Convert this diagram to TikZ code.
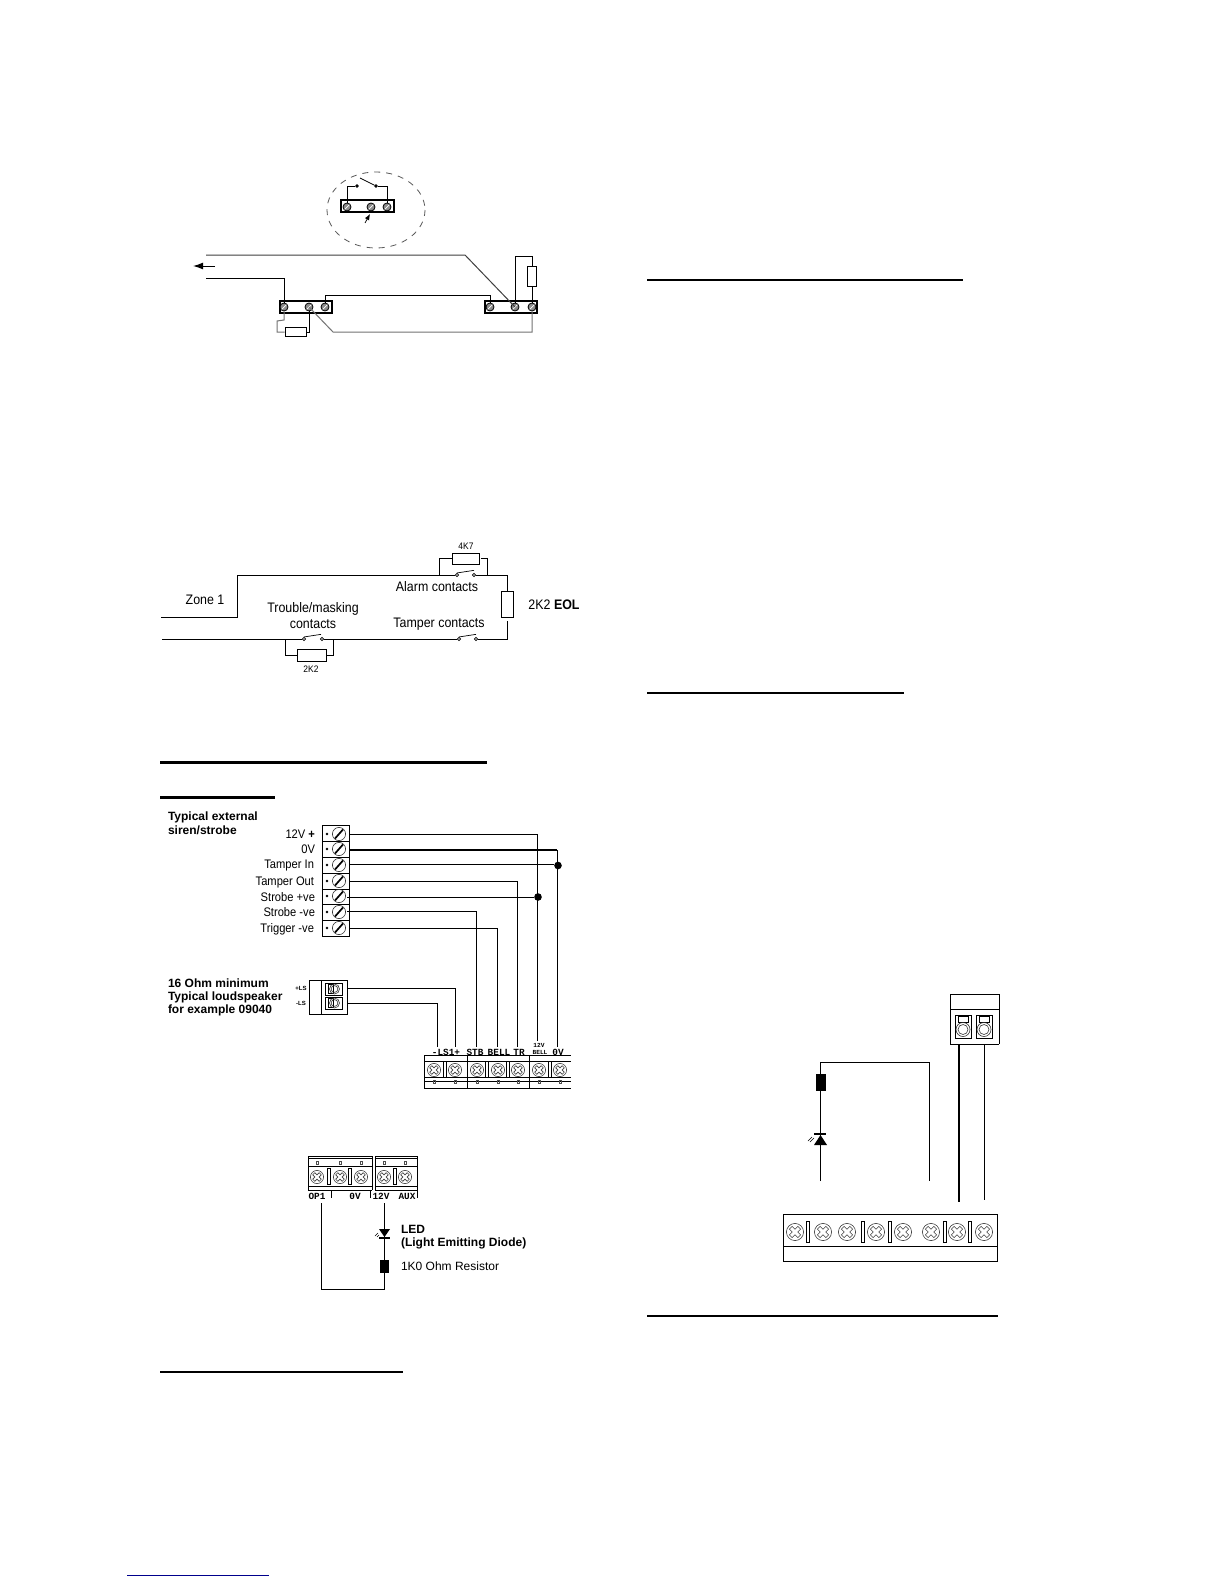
\documentclass[tikz,border=0pt]{standalone}
\usepackage{fontspec}
\usetikzlibrary{arrows.meta}
\setmainfont{Liberation Sans}
\newfontfamily\monof{Liberation Mono}
\newfontfamily\narrowf[FakeStretch=.9]{Liberation Sans}
\tikzset{
 wire/.style={draw=black,line width=.5pt},
 thin wire/.style={draw=black,line width=.35pt},
 fat wire/.style={draw=black,line width=1pt},
 gray wire/.style={draw=black!55,line width=.5pt},
 rulebar/.style={draw=black,line width=1.5pt},
 rulethin/.style={draw=black,line width=1pt},
 txt/.style={inner sep=0pt,outer sep=0pt,font=\narrowf\fontsize{6.9}{7}\selectfont},
 txts/.style={inner sep=0pt,outer sep=0pt,font=\narrowf\fontsize{6.2}{7}\selectfont},
 txtb/.style={inner sep=0pt,outer sep=0pt,font=\fontsize{6}{7}\selectfont\bfseries},
 tiny/.style={inner sep=0pt,outer sep=0pt,font=\narrowf\fontsize{4.7}{5}\selectfont},
 tinyb/.style={inner sep=0pt,outer sep=0pt,font=\fontsize{3}{4}\selectfont\bfseries},
 mono/.style={inner sep=0pt,outer sep=0pt,font=\monof\fontsize{4.7}{5}\selectfont\bfseries},
 monos/.style={inner sep=0pt,outer sep=0pt,font=\monof\fontsize{3.1}{4}\selectfont\bfseries},
 hscrew/.style={circle,draw=black,fill=black!45,inner sep=0pt,minimum size=4pt,line width=.4pt,
   path picture={\draw[white,line width=.35pt](path picture bounding box.south west)--(path picture bounding box.north east);}},
 res/.style={rectangle,draw=black,fill=white,inner sep=0pt,line width=.5pt},
 blackres/.style={rectangle,draw=black,fill=black,inner sep=0pt},
 contact/.style={circle,draw=black,fill=white,inner sep=0pt,minimum size=1.7pt,line width=.35pt},
 jdot/.style={circle,fill=black,inner sep=0pt,minimum size=3.8pt},
 bigscrew/.pic={
   \draw[line width=.3pt,black!75] (0,0) circle (6.6);
   \draw[line width=.3pt,black!75,rotate=45] (-1.5,-4.6)--(1.5,-4.6)--(1.5,-1.5)--(4.6,-1.5)--(4.6,1.5)--(1.5,1.5)--(1.5,4.6)--(-1.5,4.6)--(-1.5,1.5)--(-4.6,1.5)--(-4.6,-1.5)--(-1.5,-1.5)--cycle;
 },
 sirenscrew/.pic={
   \draw[line width=.3pt,black!80] (0,0) circle (6.6);
   \draw[line width=.85pt] (-4,4.5)--(4,-4.5);
   \fill (-12,0) circle (1.3);
 },
 bar/.style={draw=black,fill=white,line width=.35pt},
 pinmark/.pic={\draw[line width=.25pt,black!70] (-.9,-1.5) rectangle (.9,1.5);},
 pluggy/.pic={
   \draw[line width=.45pt] (-8,-11.5) rectangle (8,11.5);
   \draw[line width=.35pt] (-5,-10) rectangle (5,-4);
   \draw[line width=.3pt,black!80] (0,3) circle (7);
   \draw[line width=.3pt,black!80] (0,3) circle (5);
 },
 pluggysm/.pic={
   \draw[line width=.45pt] (-8.5,-6) rectangle (8.5,6);
   \draw[line width=.35pt] (-5.5,-4.5) rectangle (0,4.5);
   \draw[line width=.3pt,black!80] (1,0) circle (5);
   \draw[line width=.3pt,black!80] (1,0) circle (3.4);
 }
}
\begin{document}
\begin{tikzpicture}[x=.5pt,y=-.5pt]
\useasboundingbox[fill=white] (0,0) rectangle (1224,1584);

% ---------- Figure 1
\draw[dashed,draw=black!65,line width=.4pt] (376,210) ellipse (49 and 38);
\draw[draw=black,line width=.55pt] (341,200) rectangle (394,212);
\node[hscrew] (a1) at (347,207) {};
\node[hscrew] (a2) at (371,207) {};
\node[hscrew] (a3) at (387,207) {};
\node[contact,fill=black,minimum size=1.4pt] (a4) at (357,186) {};
\node[contact,fill=black,minimum size=1.4pt] (a5) at (376,186) {};
\coordinate (a6) at (360,178);
\draw[wire] (a1.north) |- (a4);
\draw[wire] (a3.north) |- (a5);
\draw[thin wire] (a6) -- (a5);
\coordinate (a7) at (365,223);
\coordinate (a8) at (370,214);
\draw[thin wire,-{Latex[length=3pt,width=2.4pt]}] (a7) -- (a8);

\draw[line width=.55pt] (280,301) rectangle (332,313);
\draw[line width=.55pt] (485,301) rectangle (537,313);
\node[hscrew] (l1) at (284,307) {};
\node[hscrew] (l2) at (309,307) {};
\node[hscrew] (l3) at (325,307) {};
\node[hscrew] (r1) at (490,307) {};
\node[hscrew] (r2) at (515,307) {};
\node[hscrew] (r3) at (532,307) {};
\coordinate (w1) at (206,255);
\coordinate (w2) at (465,255);
\coordinate (w3) at (206,278);
\draw[draw=black!75,line width=.5pt] (w1) -- (w2) -- (r2.center);
\draw[wire] (w3) -| (l1.north);
\draw[wire] (l3.north) |- (490,295) -- (r1.north);
\node[res,minimum width=4.3pt,minimum height=10pt] (rr) at (532,276) {};
\draw[wire] (r2.north) |- (532,256) -- (rr.north);
\draw[wire] (rr.south) -- (r3.north);
\coordinate (g1) at (333,332);
\coordinate (g2) at (532,332);
\draw[gray wire] (l2.center) -- (g1) -- (g2) -- (r3.south);
\node[res,minimum width=10.5pt,minimum height=4.5pt] (lr) at (295.5,332) {};
\draw[wire] (l2.south) |- (lr.east);
\draw[gray wire] (l1.south) -- (284,320) -- (277,321) |- (lr.west);
\coordinate (ar1) at (215,266);
\coordinate (ar2) at (193,266);
\draw[wire,-{Latex[length=5pt,width=3.4pt]}] (ar1) -- (ar2);

% ---------- Figure 2
\coordinate (z1) at (161,617);
\coordinate (z2) at (162,639);
\coordinate (zc) at (507,575);
\coordinate (zd) at (507,639);
\node[contact] (k1) at (457,575) {};
\node[contact] (k2) at (474,575) {};
\node[contact] (k3) at (304,639) {};
\node[contact] (k4) at (322,639) {};
\node[contact] (k5) at (459,639) {};
\node[contact] (k6) at (476,639) {};
\node[res,minimum width=6pt,minimum height=13pt] (eol) at (507,604) {};
\draw[wire] (z1) -| (237,575) -- (k1.west);
\draw[wire] (k2.east) -- (zc) -- (eol.north);
\coordinate (eg) at (507,621);
\draw[wire] (eg) -- (zd) -- (k6.east);
\draw[wire] (k5.west) -- (k4.east);
\draw[wire] (k3.west) -- (z2);
\draw[thin wire] (k1.north) -- ++(17,-2.6);
\draw[thin wire] (k3.north) -- ++(17,-2.6);
\draw[thin wire] (k5.north) -- ++(17,-2.6);
\node[res,minimum width=13.5pt,minimum height=5.5pt] (r47) at (465.5,558.5) {};
\draw[wire] (439,575) |- (r47.west);
\draw[fill=white,draw=white] (480,552) rectangle (483,564);
\draw[wire] (487,575) |- (481,558.5);
\node[res,minimum width=14.5pt,minimum height=6.2pt] (r22) at (311.5,655.5) {};
\draw[wire] (285,639) |- (r22.west);
\draw[wire] (333,639) |- (r22.east);
\node[txt] (t1) at (205,600) {Zone 1};
\node[txt] (t2) at (313,609) {Trouble/masking};
\node[txt] (t3) at (313,624) {contacts};
\node[txt] (t4) at (437,587) {Alarm contacts};
\node[txt] (t5) at (439,624) {Tamper contacts};
\node[txt] (t6) at (554,605) {2K2 \textbf{EOL}};
\node[tiny] (t7) at (466,546) {4K7};
\node[tiny] (t8) at (311,669) {2K2};

% ---------- rules
\coordinate (b1) at (160,762); \coordinate (b2) at (487,762);
\draw[rulebar] (b1) -- (b2);
\coordinate (b3) at (160,797); \coordinate (b4) at (275,797);
\draw[rulebar] (b3) -- (b4);
\coordinate (b5) at (160,1372); \coordinate (b6) at (403,1372);
\draw[rulethin] (b5) -- (b6);
\coordinate (b7) at (647,280); \coordinate (b8) at (963,280);
\draw[rulethin] (b7) -- (b8);
\coordinate (b9) at (647,693); \coordinate (b10) at (904,693);
\draw[rulethin] (b9) -- (b10);
\coordinate (b11) at (647,1316); \coordinate (b12) at (998,1316);
\draw[rulethin] (b11) -- (b12);
\coordinate (b13) at (127,1575); \coordinate (b14) at (269,1575);
\draw[draw=blue!55!black,line width=.5pt] (b13) -- (b14);

% ---------- Siren block
\node[txtb,anchor=west] (s0) at (168,817) {Typical external};
\node[txtb,anchor=west] (s00) at (168,830) {siren/strobe};
\draw[line width=.5pt] (322,825) rectangle (349,936);
\foreach \y in {841.5,857,873,889,904,920} \draw[line width=.5pt] (322,\y) -- (349,\y);
\foreach \y in {834,849,865,881,896,912,928} \pic at (339,\y) {sirenscrew};
\node[txts,anchor=east] (l12) at (315,834) {12V \textbf{+}};
\node[txts,anchor=east] (l0) at (315,849) {0V};
\node[txts,anchor=east] (lti) at (314,865.5) {Tamper In};
\node[txts,anchor=east] (lto) at (314,882) {Tamper Out};
\node[txts,anchor=east] (lsp) at (315,897) {Strobe +ve};
\node[txts,anchor=east] (lsn) at (315,912) {Strobe -ve};
\node[txts,anchor=east] (ltr) at (314,929) {Trigger -ve};

\coordinate (p1) at (349,834);
\coordinate (p2) at (349,850);
\coordinate (p3) at (349,864.5);
\coordinate (p4) at (349,881);
\coordinate (p5) at (347,897);
\coordinate (p6) at (347,911);
\coordinate (p7) at (349,928);
\coordinate (q1) at (537,1041);
\coordinate (q2) at (557,1047);
\coordinate (q4) at (517,1047);
\coordinate (q6) at (476,1047);
\coordinate (q7) at (497,1047);
\coordinate (q8) at (455,1047);
\coordinate (q9) at (437,1047);
\coordinate (q0) at (557,850);
\node[jdot] (d1) at (558,865.5) {};
\node[jdot] (d2) at (538,897) {};
\draw[wire] (p1) -| (q1);
\draw[fat wire] (p2) -- (q0);
\draw[wire] (q0) -- (q2);
\draw[wire] (p3) -- (p3 -| d1.west);
\draw[wire] (p4) -| (q4);
\draw[wire] (p5) -- (d2);
\draw[wire] (p6) -| (q6);
\draw[wire] (p7) -| (q7);

% loudspeaker plug
\draw[line width=.5pt] (309,980) rectangle (347,1014);
\draw[line width=.4pt] (321,980) -- (321,1014);
\pic at (333.5,989) {pluggysm};
\pic at (333.5,1003) {pluggysm};
\node[tinyb] (ls1) at (301,988) {+LS};
\node[tinyb] (ls2) at (301,1003) {-LS};
\coordinate (p8) at (347,988);
\coordinate (p9) at (347,1003);
\draw[wire] (p8) -| (q8);
\draw[wire] (p9) -| (q9);
\node[txtb,anchor=west] (m1) at (168,983) {16 Ohm minimum};
\node[txtb,anchor=west] (m2) at (168,997) {Typical loudspeaker};
\node[txtb,anchor=west] (m3) at (168,1010) {for example 09040};

% terminal block A
\draw[line width=.55pt] (424,1055.5) -- (571,1055.5);
\draw[line width=.35pt] (424,1061) -- (571,1061);
\draw[line width=.5pt] (424,1077) -- (571,1077);
\draw[line width=.25pt] (424,1081) -- (571,1081);
\draw[line width=.45pt] (424,1088) -- (571,1088);
\foreach \x in {424,467,529} \draw[line width=.45pt] (\x,1055) -- (\x,1088);
\foreach \x in {434,455,477,498,518,539,560} {\pic at (\x,1070) {bigscrew}; \pic at (\x,1081.5) {pinmark};}
\foreach \x in {445,487,508,550} \draw[bar] (\x-1.4,1061) rectangle (\x+1.4,1077);
\node[mono] (n1) at (446,1052) {-LS1+};
\node[mono] (n2) at (475,1052) {STB};
\node[mono] (n3) at (499,1052) {BELL};
\node[mono] (n4) at (519,1052) {TR};
\node[monos] (n5) at (539,1045) {12V};
\node[monos] (n6) at (540,1052) {BELL};
\node[mono] (n7) at (558,1052) {0V};

% ---------- LED block
\draw[line width=.5pt] (308,1156) -- (372,1156) (375,1156) -- (417,1156);
\draw[line width=.25pt] (308,1158.5) -- (372,1158.5) (375,1158.5) -- (417,1158.5);
\draw[line width=.45pt] (308,1166) -- (372,1166) (375,1166) -- (417,1166);
\draw[line width=.25pt] (308,1186) -- (372,1186) (375,1186) -- (417,1186);
\draw[line width=.5pt] (308,1190) -- (372,1190) (375,1190) -- (417,1190);
\foreach \x in {308,372,375,417} \draw[line width=.45pt] (\x,1156) -- (\x,1190);
\foreach \x in {317,340,361,384,405} {\pic at (\x,1177) {bigscrew}; \pic at (\x,1163) {pinmark};}
\foreach \x in {329,350,395} \draw[bar] (\x-1.3,1168) rectangle (\x+1.3,1184);
\draw[line width=.4pt] (331,1190) -- (331,1198) (370,1190) -- (370,1198) (417,1190) -- (417,1198);
\node[mono] (o1) at (317,1196) {OP1};
\node[mono] (o2) at (355,1196) {0V};
\node[mono] (o3) at (381,1196) {12V};
\node[mono] (o4) at (407,1196) {AUX};
\coordinate (c1) at (321,1203);
\coordinate (c2) at (384,1203);
\coordinate (c3) at (321,1289);
\coordinate (c4) at (384,1289);
\node[blackres,minimum width=3.7pt,minimum height=6pt] (c5) at (384.5,1266) {};
\draw[wire] (c1) -- (c3) -- (c4) -- (c2);
\fill (379,1229) -- (390,1229) -- (384.5,1237) -- cycle;
\draw[line width=.8pt] (379,1238) -- (390,1238);
\draw[line width=.25pt] (375,1236) -- (378,1233) (377,1237) -- (379,1235);
\node[txtb,anchor=west] (o5) at (401,1229) {LED};
\node[txtb,anchor=west] (o6) at (401,1243) {(Light Emitting Diode)};
\node[txts,font=\fontsize{6}{7}\selectfont,anchor=west] (o7) at (401,1266) {1K0 Ohm Resistor};

% ---------- Right figure
\draw[line width=.45pt] (999,994) -- (950,994) -- (950,1044) -- (999,1044);
\draw[line width=.35pt] (950,1009) -- (999,1009);
\draw[line width=.35pt] (999,994) -- (999,1044);
\pic at (963,1026.5) {pluggy};
\pic at (984,1026.5) {pluggy};
\coordinate (e1) at (959,1044);
\coordinate (e2) at (959,1202);
\coordinate (e3) at (984,1044);
\coordinate (e4) at (984,1200);
\draw[fat wire] (e1) -- (e2);
\draw[wire] (e3) -- (e4);
\coordinate (f1) at (820,1181);
\coordinate (f2) at (820,1062);
\coordinate (f3) at (929,1062);
\coordinate (f4) at (929,1181);
\draw[wire] (f1) -- (f2) -- (f3) -- (f4);
\node[blackres,minimum width=4.5pt,minimum height=8pt] (f5) at (820.5,1082) {};
\fill (814,1145) -- (827,1145) -- (820.5,1135) -- cycle;
\draw[line width=.8pt] (814,1134) -- (826,1134);
\draw[line width=.25pt] (808,1141) -- (812,1137) (810,1142) -- (814,1138);
\draw[line width=.45pt] (783,1214) rectangle (997,1261);
\draw[line width=.35pt] (783,1246) -- (997,1246);
\foreach \x in {795,823,847,876,903,931,957,984} \pic[scale=1.3] at (\x,1232) {bigscrew};
\foreach \x in {808,863,890,945,970} \draw[bar] (\x-1.3,1221) rectangle (\x+1.3,1242);
\end{tikzpicture}
\end{document}
